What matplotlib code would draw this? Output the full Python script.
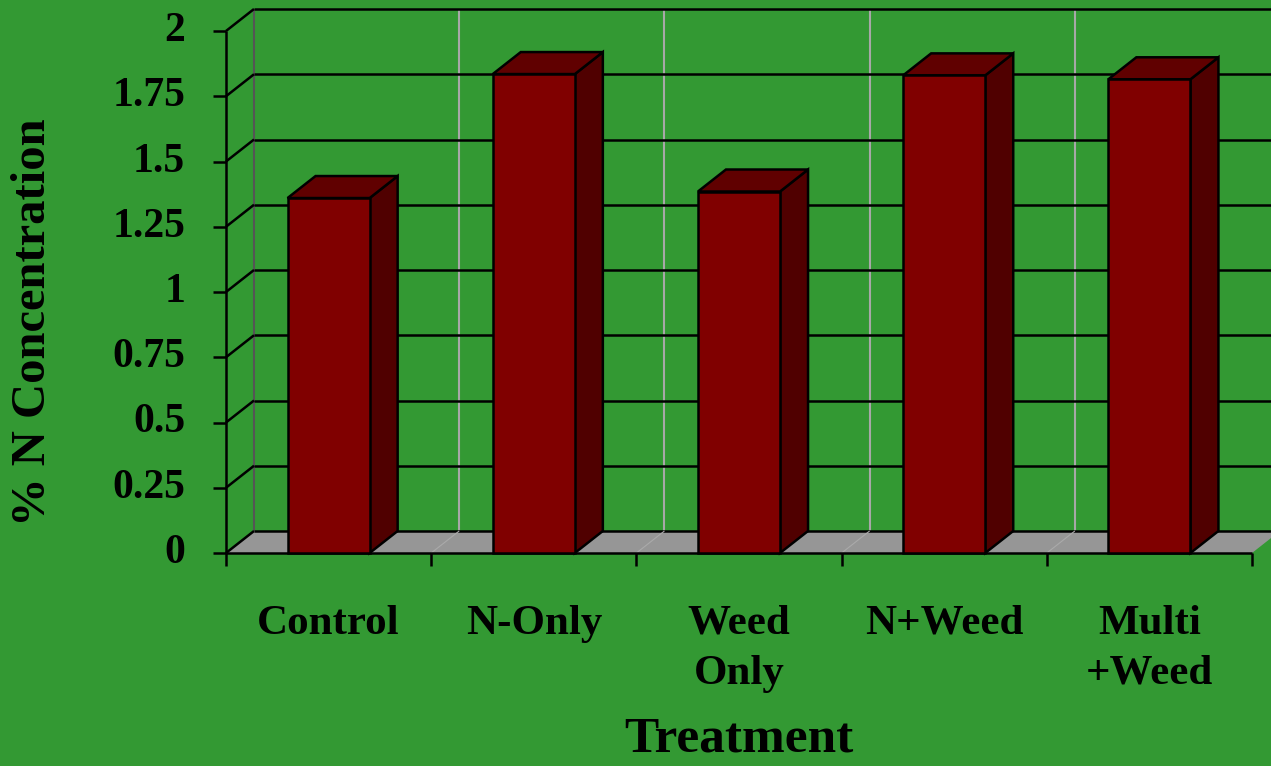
import matplotlib.pyplot as plt
from matplotlib.patches import Polygon

# data
treatments = ["Control", "N-Only", "Weed\nOnly", "N+Weed", "Multi\n+Weed"]
n_conc = [1.36, 1.835, 1.385, 1.83, 1.815]
y_ticks = [0, 0.25, 0.5, 0.75, 1, 1.25, 1.5, 1.75, 2]
y_tick_labels = ["0", "0.25", "0.5", "0.75", "1", "1.25", "1.5", "1.75", "2"]

W, H, DPI = 1271, 766, 100
GREEN = "#339933"
FONT = "Liberation Serif"

fig = plt.figure(figsize=(W / DPI, H / DPI), dpi=DPI, facecolor=GREEN)
# front plane of the pseudo-3d box in pixels
left_px, right_px, bottom_px, top_px = 226, 1252, 553, 31
ax = fig.add_axes([left_px / W, 1 - bottom_px / H,
                   (right_px - left_px) / W, (bottom_px - top_px) / H])
ax.set_xlim(0, len(treatments))
ax.set_ylim(0, 2)
ax.axis("off")

# depth offset (pixels) converted into data units
DX_PX, DY_PX = 28, 22
ux = len(treatments) / (right_px - left_px)
uy = 2 / (bottom_px - top_px)
ddx, ddy = DX_PX * ux, DY_PX * uy


def back(x, y):
    return x + ddx, y + ddy


def seg(p0, p1, **kw):
    ax.plot([p0[0], p1[0]], [p0[1], p1[1]], clip_on=False,
            solid_capstyle="butt", **kw)


n = len(treatments)

# floor
floor = Polygon([(0, 0), (n, 0), back(n, 0), back(0, 0)], closed=True,
                facecolor="#969696", edgecolor="none", zorder=1, clip_on=False)
ax.add_patch(floor)
for k in range(1, n):
    seg((k, 0), back(k, 0), color="#aaaaaa", lw=0.8, zorder=1.5)

# back wall vertical grid lines
for k in range(1, n):
    seg(back(k, 0), back(k, 2), color="#a8a8a8", lw=1.5, zorder=1.2)
seg(back(0, 0), back(0, 2), color="#555555", lw=1.5, zorder=1.3)

# back wall horizontal grid lines + side wall diagonals
for yv in y_ticks:
    seg(back(0, yv), back(n + 0.2, yv), color="black", lw=1.8, zorder=1.4)
    seg((0, yv), back(0, yv), color="black", lw=1.8, zorder=1.4)

# front axes
seg((0, 0), (0, 2), color="black", lw=1.8, zorder=2)
seg((0, 0), (n, 0), color="black", lw=1.8, zorder=2)
for yv, lab in zip(y_ticks, y_tick_labels):
    seg((0, yv), (-13 * ux, yv), color="black", lw=1.8, zorder=2)
    ax.text(-41 * ux, yv, lab, ha="right", va="center", fontsize=30,
            fontweight="bold", family=FONT, color="black")
for k in range(n + 1):
    seg((k, 0), (k, -13 * uy), color="black", lw=1.8, zorder=2)

# bars
bw = 0.4
for i, (name, v) in enumerate(zip(treatments, n_conc)):
    xl, xr = i + 0.5 - bw / 2, i + 0.5 + bw / 2
    front = Polygon([(xl, 0), (xr, 0), (xr, v), (xl, v)], closed=True,
                    facecolor="#800000", edgecolor="black", lw=1.8,
                    joinstyle="miter", zorder=5, clip_on=False)
    top = Polygon([(xl, v), (xr, v), back(xr, v), back(xl, v)], closed=True,
                  facecolor="#600000", edgecolor="black", lw=1.8,
                  joinstyle="miter", zorder=4, clip_on=False)
    side = Polygon([(xr, 0), back(xr, 0), back(xr, v), (xr, v)], closed=True,
                   facecolor="#500000", edgecolor="black", lw=1.8,
                   joinstyle="miter", zorder=4, clip_on=False)
    for p in (side, top, front):
        ax.add_patch(p)
    ax.text(i + 0.5, -52 * uy, name, ha="center", va="top", fontsize=31,
            fontweight="bold", family=FONT, linespacing=1.4)

ax.text(n / 2, -186 * uy, "Treatment", ha="center", va="center",
        fontsize=37, fontweight="bold", family=FONT)
fig.text(33 / W, 1 - 322 / H, "% N Concentration", rotation=90,
         ha="center", va="center", fontsize=35, fontweight="bold", family=FONT)

fig.savefig("out.png", dpi=DPI, facecolor=GREEN)
